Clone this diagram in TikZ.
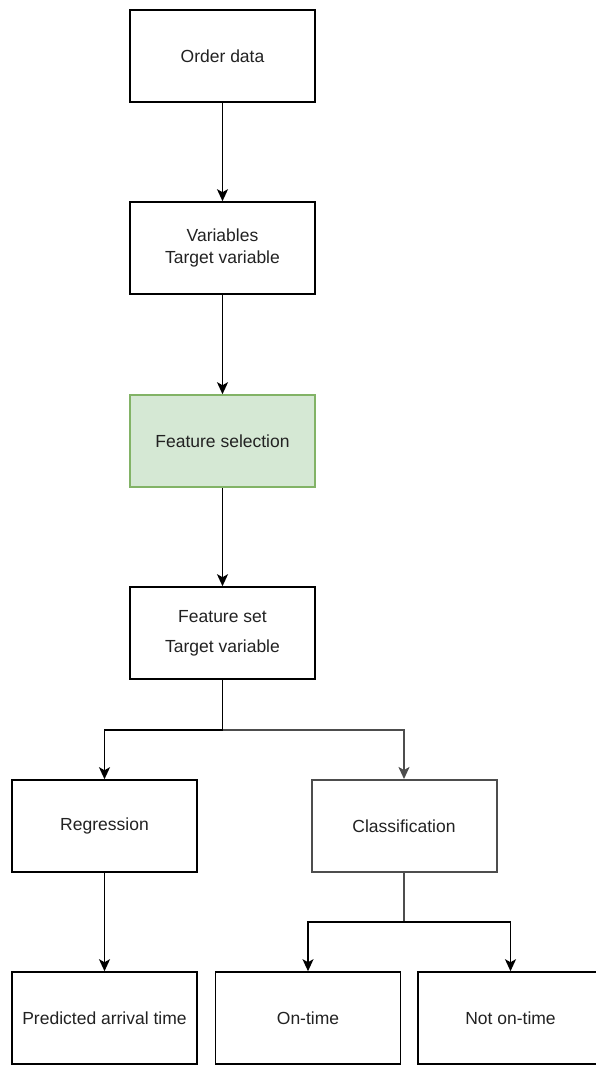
\documentclass[tikz,border=0pt]{standalone}
\usepackage{fontspec}
\setmainfont{Liberation Sans}
\usetikzlibrary{arrows.meta}
\definecolor{txt}{HTML}{222222}
\definecolor{greenfill}{HTML}{D5E8D4}
\definecolor{greenline}{HTML}{82B366}
\definecolor{grayline}{HTML}{4D4D4D}
\begin{document}
\begin{tikzpicture}[x=1pt,y=-1pt,
  box/.style={draw=black,line width=1.6pt,fill=white,minimum width=185pt,minimum height=92pt,
    inner sep=0pt,align=center,text=txt,font=\fontsize{17.5}{22.7}\selectfont},
  greenbox/.style={box,draw=greenline,fill=greenfill},
  flow/.style={draw=black,line width=1.6pt,-{Stealth[length=12pt,width=11pt,inset=3pt]}}]
  \useasboundingbox (0,0) rectangle (595,1065);
  % main column
  \node[box] (order) at (222.5,56) {Order data};
  \node[box] (vars) at (222.5,248) {Variables\\Target variable};
  \node[greenbox] (fsel) at (222.5,441) {Feature selection};
  \node[box,font=\fontsize{17.5}{30}\selectfont] (fset) at (222.5,633) {Feature set\\Target variable};
  % model branches
  \node[box] (reg) at (104.5,826) {Regression};
  \node[box,draw=grayline,line width=2pt] (cls) at (404,826) {Classification};
  % outcomes
  \node[box] (pred) at (104.5,1018) {Predicted arrival time};
  \node[box] (ont) at (308,1018) {On-time};
  \node[box] (notont) at (510.5,1018) {Not on-time};
  % branch points
  \coordinate (j1) at (222.5,730);
  \coordinate (j2) at (404,922);
  % connectors
  \draw[flow] (order.south) -- (vars.north);
  \draw[flow] (vars.south) -- (fsel.north);
  \draw[flow] (fsel.south) -- (fset.north);
  \draw[line width=1.6pt] (fset.south) -- (j1);
  \draw[flow] (j1) -| (reg.north);
  \draw[flow,draw=grayline,line width=1.9pt] (j1) -| (cls.north);
  \draw[flow] (reg.south) -- (pred.north);
  \draw[line width=2pt,draw=grayline] (cls.south) -- (j2);
  \draw[flow] (j2) -| (ont.north);
  \draw[flow] (j2) -| (notont.north);
\end{tikzpicture}
\end{document}
